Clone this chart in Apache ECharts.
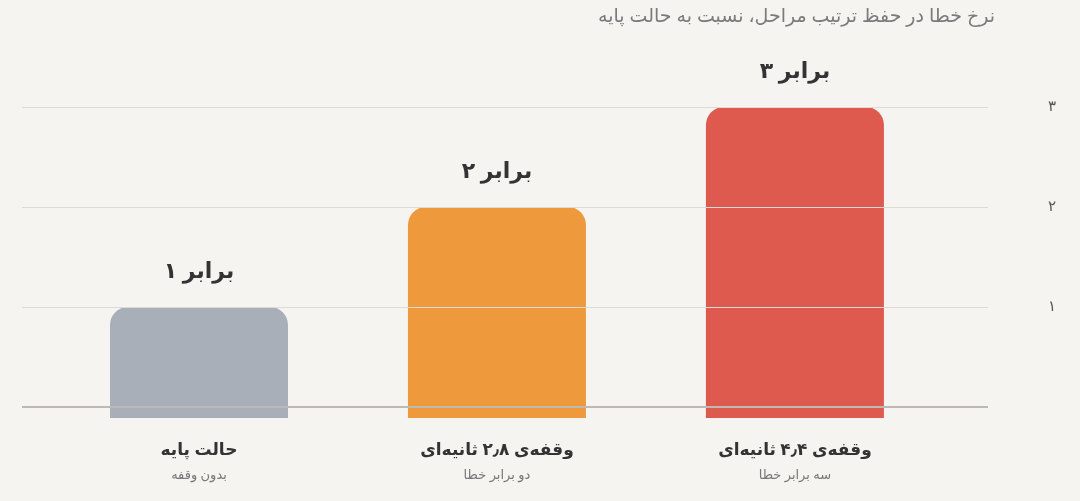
<!DOCTYPE html>
<html><head><meta charset="utf-8">
<script src="https://cdn.jsdelivr.net/npm/echarts@6/dist/echarts.min.js"></script>
<style>html,body{margin:0;padding:0;background:#f5f4f0}#c{width:1080px;height:501px}</style>
</head><body><div id="c"></div>
<script>
const categories = ['حالت پایه', 'وقفه‌ی ۲٫۸ ثانیه‌ای', 'وقفه‌ی ۴٫۴ ثانیه‌ای'];
const subtitles = ['بدون وقفه', 'دو برابر خطا', 'سه برابر خطا'];
const values = [1, 2, 3];
const valueLabels = ['۱ برابر', '۲ برابر', '۳ برابر'];
const yTicks = [0, 1, 2, 3];
const yTickLabels = ['', '۱', '۲', '۳'];
const colors = ['#a9afb8', '#ee9a3c', '#df5a4e'];
const title = 'نرخ خطا در حفظ ترتیب مراحل، نسبت به حالت پایه';
const OFFSET = 0.11;

const font = '"Noto Sans", "DejaVu Sans", sans-serif';
const chart = echarts.init(document.getElementById('c'));
chart.setOption({
  backgroundColor: '#f5f4f0',
  textStyle: { fontFamily: font },
  title: { text: title, right: 80, top: 2, textStyle: { fontSize: 19, fontWeight: 'normal', color: '#7a7a7a', fontFamily: font } },
  grid: { left: 22, right: 92, top: 107, bottom: 83 },
  xAxis: {
    type: 'value', min: 0.406, max: 3.648,
    splitLine: { show: false }, axisLine: { show: false }, axisTick: { show: false },
    axisLabel: {
      customValues: [1, 2, 3], margin: 18,
      formatter: v => '{t|' + categories[v - 1] + '}\n{s|' + subtitles[v - 1] + '}',
      rich: {
        t: { fontSize: 17, fontWeight: 'bold', color: '#333', lineHeight: 28, fontFamily: font },
        s: { fontSize: 13, color: '#777', lineHeight: 22, fontFamily: font }
      }
    }
  },
  yAxis: { type: 'value', min: 0, max: 3 + OFFSET, show: false },
  series: [{
    type: 'bar', barWidth: 178,
    data: values.map((v, i) => ({ value: [i + 1, v + OFFSET], itemStyle: { color: colors[i], borderRadius: [18, 18, 0, 0] } })),
    label: { show: true, position: 'top', distance: 24, fontSize: 22, fontWeight: 'bold', color: '#333', fontFamily: font,
      formatter: p => valueLabels[p.dataIndex] },
    markLine: {
      silent: true, symbol: 'none',
      data: yTicks.map((t, i) => ({ yAxis: t + OFFSET,
        lineStyle: { color: t === 0 ? '#bdbab4' : '#dedbd5', width: t === 0 ? 2 : 1, type: 'solid' },
        label: { show: true, position: 'end', distance: 60, formatter: yTickLabels[i], color: '#555', fontSize: 15, fontFamily: font } })),
    },
    z: 3
  }]
});
</script></body></html>
